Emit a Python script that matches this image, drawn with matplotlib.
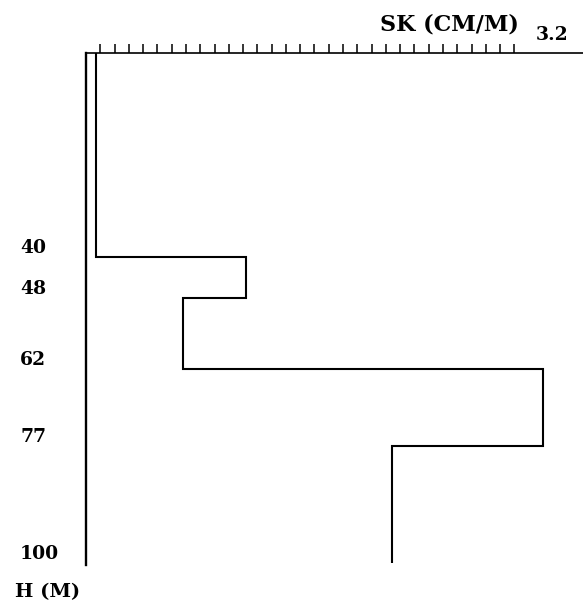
import numpy as np
import matplotlib
matplotlib.use("Agg")
import matplotlib.pyplot as plt
from matplotlib.transforms import ScaledTranslation

# ---- data ----
depth_edges = [0, 40, 48, 62, 77, 100]          # H (m)
sk_values = [0.07, 1.12, 0.68, 3.2, 2.14]       # SK (cm/m)
depth_ticks = [40, 48, 62, 77, 100]
depth_labels = ["40", "48", "62", "77", "100"]
sk_minor_ticks = [round(0.1 * i, 1) for i in range(1, 31)]
x_label = "SK (CM/M)"
y_label = "H (M)"
x_max_label = "3.2"

W, H = 583, 601
fig = plt.figure(figsize=(W / 100, H / 100), dpi=100)

def fx(px):
    return px / W

def fy(py):
    return 1 - py / H

ax_left, ax_right = 86, 583
ax_top, ax_bot = 52.7, 565
ax = fig.add_axes([fx(ax_left), fy(ax_bot), fx(ax_right) - fx(ax_left), fy(ax_top) - fy(ax_bot)])

px_per_unit = 142.8
ax.set_xlim(0, (ax_right - ax_left) / px_per_unit)
ax.set_ylim(100.33, 0)

ax.stairs(sk_values, depth_edges, orientation="horizontal", baseline=None,
          color="black", linewidth=1.5)

for s in ["right", "bottom"]:
    ax.spines[s].set_visible(False)
ax.spines["left"].set_linewidth(1.7)
ax.spines["top"].set_linewidth(1.2)

ax.xaxis.set_ticks_position("top")
ax.set_xticks(sk_minor_ticks)
ax.tick_params(axis="x", direction="out", length=6.5, width=1.1, labeltop=False, labelbottom=False)

font = dict(family="DejaVu Serif", weight="bold")
ax.set_yticks(depth_ticks)
ax.set_yticklabels(depth_labels, **font, fontsize=13.5)
ax.tick_params(axis="y", length=0, pad=(ax_left - 20) * 72 / 100)
off = ScaledTranslation(0, 11 / 100, fig.dpi_scale_trans)
for lab in ax.get_yticklabels():
    lab.set_horizontalalignment("left")
    lab.set_transform(lab.get_transform() + off)

fig.text(fx(449), fy(24), x_label, ha="center", va="center", fontsize=16, **font)
fig.text(fx(552), fy(35), x_max_label, ha="center", va="center", fontsize=13.5, **font)
fig.text(fx(47.5), fy(592), y_label, ha="center", va="center", fontsize=14, **font)

fig.savefig("out.png", dpi=100)
